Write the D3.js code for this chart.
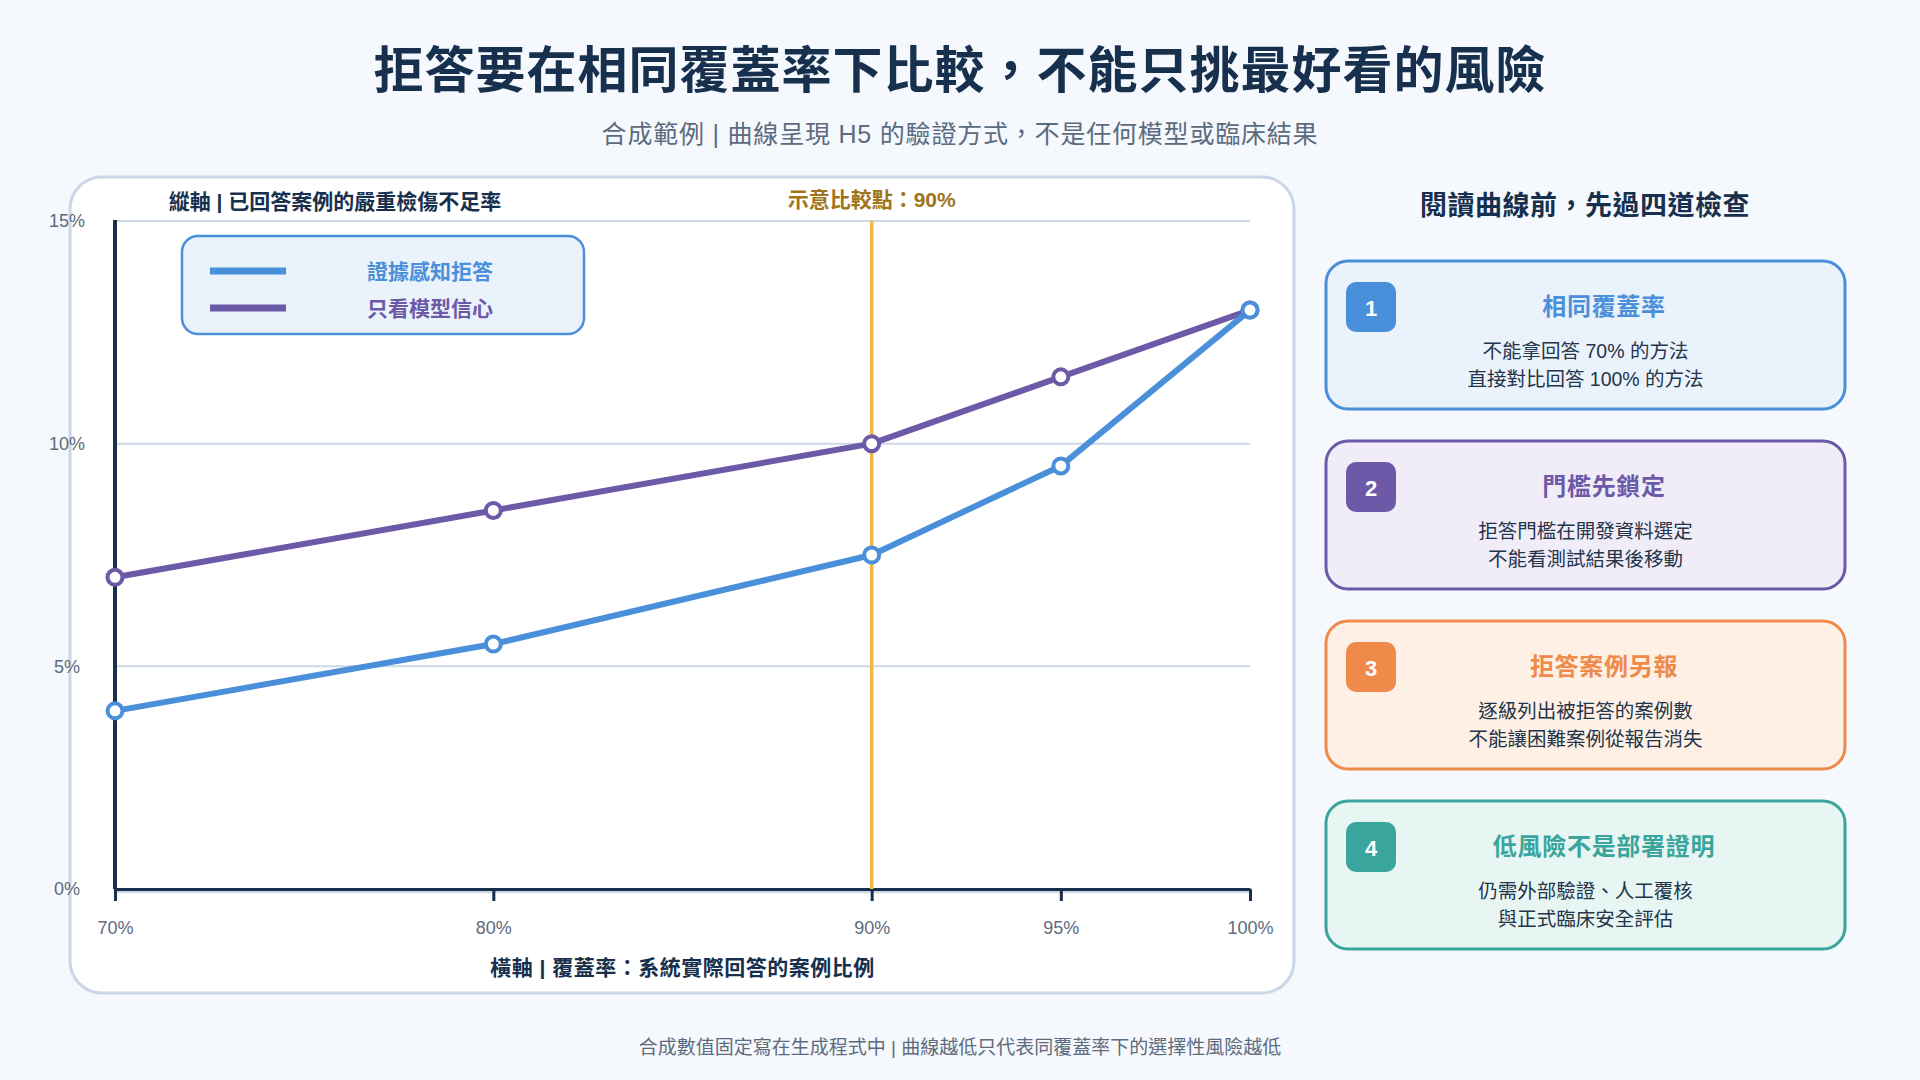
<!DOCTYPE html>
<html>
<head>
<meta charset="utf-8">
<script src="https://cdn.jsdelivr.net/npm/d3@7"></script>
<style>
  html, body { margin: 0; padding: 0; background: #f5f8fc; }
  svg { display: block; font-family: "Liberation Sans", "Noto Sans CJK TC", "Noto Sans CJK SC", sans-serif; }
</style>
</head>
<body>
<svg id="chart" width="1920" height="1080"></svg>
<script>
// data
const coverage = [70, 80, 90, 95, 100]
const evidenceAware = [4, 5.5, 7.5, 9.5, 13]
const confidenceOnly = [7, 8.5, 10, 11.5, 13]
const yTicks = [0, 5, 10, 15]
const seriesNames = ["證據感知拒答", "只看模型信心"]
const comparePoint = 90

const cardNumbers = ["1", "2", "3", "4"]
const cardTitles = ["相同覆蓋率", "門檻先鎖定", "拒答案例另報", "低風險不是部署證明"]
const cardLines = [
  ["不能拿回答 70% 的方法", "直接對比回答 100% 的方法"],
  ["拒答門檻在開發資料選定", "不能看測試結果後移動"],
  ["逐級列出被拒答的案例數", "不能讓困難案例從報告消失"],
  ["仍需外部驗證、人工覆核", "與正式臨床安全評估"]
]

const ink = "#17304d"
const grey = "#5d6b7e"
const seriesColors = ["#4a8fd9", "#6c59a7"]
const cardStroke = ["#4a8fd9", "#6c59a7", "#ef8a4b", "#3aa59c"]
const cardFill = ["#eaf2fb", "#f0edf9", "#fef0e5", "#e8f6f3"]

const svg = d3.select("#chart")

svg.append("rect").attr("width", 1920).attr("height", 1080).attr("fill", "#f5f8fc")

// header
svg.append("text")
  .attr("x", 960).attr("y", 71)
  .attr("text-anchor", "middle").attr("dominant-baseline", "central")
  .attr("font-size", 50).attr("font-weight", 700).attr("letter-spacing", 1)
  .attr("fill", ink)
  .text("拒答要在相同覆蓋率下比較，不能只挑最好看的風險")

svg.append("text")
  .attr("x", 960).attr("y", 134)
  .attr("text-anchor", "middle").attr("dominant-baseline", "central")
  .attr("font-size", 25).attr("letter-spacing", 0.8)
  .attr("fill", "#5b6b80")
  .text("合成範例 | 曲線呈現 H5 的驗證方式，不是任何模型或臨床結果")

// chart panel
svg.append("rect")
  .attr("x", 70).attr("y", 177).attr("width", 1224).attr("height", 816)
  .attr("rx", 32).attr("fill", "#ffffff")
  .attr("stroke", "#cbd6e6").attr("stroke-width", 3)

const plot = { left: 115, right: 1250, top: 221, bottom: 889 }

const x = d3.scaleLinear().domain([70, 100]).range([plot.left, plot.right])
const y = d3.scaleLinear().domain([0, 15]).range([plot.bottom, plot.top])

// gridlines
svg.append("g").selectAll("line")
  .data(yTicks.filter(d => d > 0))
  .enter().append("line")
    .attr("x1", plot.left).attr("x2", plot.right)
    .attr("y1", d => y(d)).attr("y2", d => y(d))
    .attr("stroke", "#cdd7e6").attr("stroke-width", 2)

svg.append("line")
  .attr("x1", plot.left).attr("x2", plot.right)
  .attr("y1", plot.bottom + 3).attr("y2", plot.bottom + 3)
  .attr("stroke", "#cdd7e6").attr("stroke-width", 2.5)

// y axis labels
const yAxis = svg.append("g")
  .attr("transform", "translate(" + plot.left + ",0)")
  .call(d3.axisLeft(y).tickValues(yTicks).tickSize(0).tickFormat(d => d + "%"))
yAxis.select(".domain").remove()
yAxis.selectAll("text")
  .attr("x", -48).attr("text-anchor", "middle")
  .attr("font-size", 18).attr("fill", grey)
  .style("font-family", "inherit")

// y axis line
svg.append("line")
  .attr("x1", plot.left).attr("x2", plot.left)
  .attr("y1", plot.top - 1).attr("y2", plot.bottom)
  .attr("stroke", ink).attr("stroke-width", 4)

// x axis
const xAxis = svg.append("g")
  .attr("transform", "translate(0," + plot.bottom + ")")
  .call(d3.axisBottom(x).tickValues(coverage).tickSize(12).tickSizeOuter(0).tickPadding(20).tickFormat(d => d + "%"))
xAxis.select(".domain").attr("stroke", ink).attr("stroke-width", 3)
xAxis.selectAll(".tick line").attr("stroke", ink).attr("stroke-width", 3)
xAxis.selectAll("text")
  .attr("font-size", 18).attr("fill", grey)
  .style("font-family", "inherit")

// comparison line
svg.append("line")
  .attr("x1", x(comparePoint)).attr("x2", x(comparePoint))
  .attr("y1", plot.top).attr("y2", plot.bottom)
  .attr("stroke", "#efb943").attr("stroke-width", 3.5)

svg.append("text")
  .attr("x", x(comparePoint)).attr("y", 199)
  .attr("text-anchor", "middle").attr("dominant-baseline", "central")
  .attr("font-size", 21).attr("font-weight", 700)
  .attr("fill", "#a0741a")
  .text("示意比較點：" + comparePoint + "%")

// axis titles
svg.append("text")
  .attr("x", 335).attr("y", 201)
  .attr("text-anchor", "middle").attr("dominant-baseline", "central")
  .attr("font-size", 21).attr("font-weight", 700).attr("fill", ink)
  .text("縱軸 | 已回答案例的嚴重檢傷不足率")

svg.append("text")
  .attr("x", (plot.left + plot.right) / 2).attr("y", 967)
  .attr("text-anchor", "middle").attr("dominant-baseline", "central")
  .attr("font-size", 21).attr("font-weight", 700).attr("letter-spacing", 0.5).attr("fill", ink)
  .text("橫軸 | 覆蓋率：系統實際回答的案例比例")

// series
const seriesValues = [evidenceAware, confidenceOnly]
const line = d3.line()
  .x((d, i) => x(coverage[i]))
  .y(d => y(d))

// purple drawn first so blue lies on top at the shared end point
const drawOrder = [1, 0]
drawOrder.forEach(s => {
  svg.append("path")
    .datum(seriesValues[s])
    .attr("d", line)
    .attr("fill", "none")
    .attr("stroke", seriesColors[s]).attr("stroke-width", 6)
    .attr("stroke-linejoin", "round")
})
drawOrder.forEach(s => {
  svg.append("g").selectAll("circle")
    .data(seriesValues[s])
    .enter().append("circle")
      .attr("cx", (d, i) => x(coverage[i]))
      .attr("cy", d => y(d))
      .attr("r", 7.5)
      .attr("fill", "#ffffff")
      .attr("stroke", seriesColors[s]).attr("stroke-width", 4)
})

// legend
const legend = svg.append("g")
legend.append("rect")
  .attr("x", 182).attr("y", 236).attr("width", 402).attr("height", 98)
  .attr("rx", 16).attr("fill", "#eaf2fb")
  .attr("stroke", "#4a8fd9").attr("stroke-width", 2.5)
seriesNames.forEach((name, i) => {
  const ly = 271 + i * 37
  legend.append("line")
    .attr("x1", 210).attr("x2", 286).attr("y1", ly).attr("y2", ly)
    .attr("stroke", seriesColors[i]).attr("stroke-width", 7)
  legend.append("text")
    .attr("x", 430).attr("y", ly)
    .attr("text-anchor", "middle").attr("dominant-baseline", "central")
    .attr("font-size", 21).attr("font-weight", 700)
    .attr("fill", seriesColors[i])
    .text(name)
})

// right column
svg.append("text")
  .attr("x", 1585).attr("y", 206)
  .attr("text-anchor", "middle").attr("dominant-baseline", "central")
  .attr("font-size", 27).attr("font-weight", 700).attr("letter-spacing", 0.5)
  .attr("fill", ink)
  .text("閱讀曲線前，先過四道檢查")

const cardX = 1326, cardW = 519, cardH = 148, cardTop = 261, cardStep = 180

const cards = svg.append("g").selectAll("g")
  .data(cardNumbers)
  .enter().append("g")
    .attr("transform", (d, i) => "translate(" + cardX + "," + (cardTop + i * cardStep) + ")")

cards.append("rect")
  .attr("width", cardW).attr("height", cardH).attr("rx", 22)
  .attr("fill", (d, i) => cardFill[i])
  .attr("stroke", (d, i) => cardStroke[i]).attr("stroke-width", 3)

cards.append("rect")
  .attr("x", 20).attr("y", 21).attr("width", 50).attr("height", 50).attr("rx", 10)
  .attr("fill", (d, i) => cardStroke[i])

cards.append("text")
  .attr("x", 45).attr("y", 47)
  .attr("text-anchor", "middle").attr("dominant-baseline", "central")
  .attr("font-size", 22).attr("font-weight", 700).attr("fill", "#ffffff")
  .text(d => d)

cards.append("text")
  .attr("x", 278).attr("y", 45)
  .attr("text-anchor", "middle").attr("dominant-baseline", "central")
  .attr("font-size", 24).attr("font-weight", 700).attr("letter-spacing", 0.7)
  .attr("fill", (d, i) => cardStroke[i])
  .text((d, i) => cardTitles[i])

cards.each(function(d, i) {
  d3.select(this).selectAll(".body")
    .data(cardLines[i])
    .enter().append("text")
      .attr("class", "body")
      .attr("x", cardW / 2).attr("y", (t, j) => 90 + j * 28)
      .attr("text-anchor", "middle").attr("dominant-baseline", "central")
      .attr("font-size", 19.5).attr("fill", "#24344a")
      .text(t => t)
})

// footer
svg.append("text")
  .attr("x", 960).attr("y", 1047)
  .attr("text-anchor", "middle").attr("dominant-baseline", "central")
  .attr("font-size", 19).attr("fill", grey)
  .text("合成數值固定寫在生成程式中 | 曲線越低只代表同覆蓋率下的選擇性風險越低")
</script>
</body>
</html>
